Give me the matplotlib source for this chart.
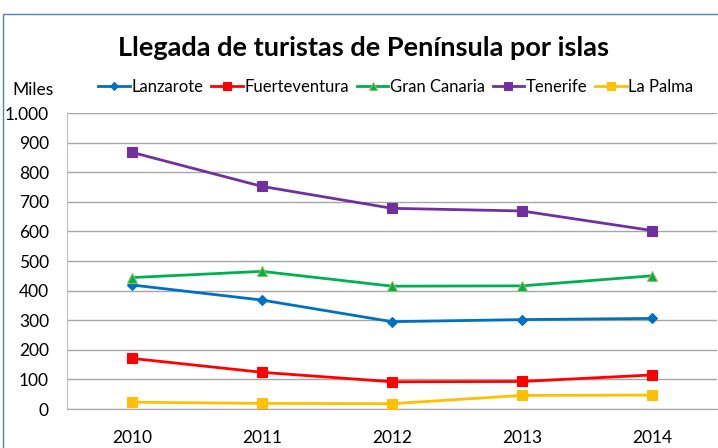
import matplotlib
matplotlib.use("Agg")
import matplotlib.pyplot as plt
from matplotlib.ticker import FuncFormatter
from matplotlib.patches import Rectangle

years = ["2010", "2011", "2012", "2013", "2014"]
lanzarote = [419, 368, 295, 302, 306]
fuerteventura = [171, 124, 92, 93, 115]
gran_canaria = [444, 465, 415, 416, 450]
tenerife = [867, 752, 678, 669, 603]
la_palma = [23, 19, 18, 46, 47]

series = [
    ("Lanzarote", lanzarote, "#0070C0", "D", 5, "#0070C0"),
    ("Fuerteventura", fuerteventura, "#FF0000", "s", 7, "#FF0000"),
    ("Gran Canaria", gran_canaria, "#00B050", "^", 7, "#9BBB59"),
    ("Tenerife", tenerife, "#7030A0", "s", 7, "#7030A0"),
    ("La Palma", la_palma, "#FFC000", "s", 7, "#FFC000"),
]

plt.rcParams['font.family'] = ['Lato', 'DejaVu Sans']

fig = plt.figure(figsize=(7.18, 4.48), dpi=100)
ax = fig.add_axes([67/718, 1-409/448, 650/718, 296/448])

x = list(range(len(years)))
handles = []
for name, vals, col, mk, ms, ec in series:
    h, = ax.plot(x, vals, color=col, lw=2.0, marker=mk, markersize=ms,
                 markerfacecolor=col, markeredgecolor=ec, markeredgewidth=0.8,
                 label=name, zorder=3)
    handles.append(h)

ax.set_xlim(-0.5, 4.5)
ax.set_ylim(0, 1000)
ax.set_yticks(range(0, 1001, 100))
ax.yaxis.set_major_formatter(FuncFormatter(lambda v, p: f"{int(v):,}".replace(",", ".")))
ax.set_xticks(x)
ax.set_xticklabels(years)
ax.grid(axis='y', color='#A6A6A6', lw=1.0, zorder=0)
ax.set_axisbelow(True)
for s in ['top', 'right']:
    ax.spines[s].set_visible(False)
ax.spines['left'].set_color('#BFBFBF')
ax.spines['bottom'].set_color('#A6A6A6')
ax.tick_params(axis='both', length=0, labelsize=12.5, colors='black')
ax.tick_params(axis='y', pad=13)
ax.tick_params(axis='x', pad=15)

fig.text(12/718, 1-90/448, "Miles", fontsize=12.5, va='center', ha='left')
fig.text(364/718, 1-48/448, "Llegada de turistas de Península por islas",
         fontsize=19.5, fontweight='bold', ha='center', va='center')

fig.legend(handles=handles, loc='center', bbox_to_anchor=(396/718, 1-87/448),
           ncol=5, frameon=False, fontsize=12, handlelength=1.9,
           handletextpad=0.1, columnspacing=0.45, markerscale=0.8)

fig.patches.append(Rectangle((3/718, -0.1), 1.2, 1-14/448+0.1, transform=fig.transFigure,
                             fill=False, edgecolor='#4F81BD', lw=1.0))

fig.savefig("out.png", dpi=100)
